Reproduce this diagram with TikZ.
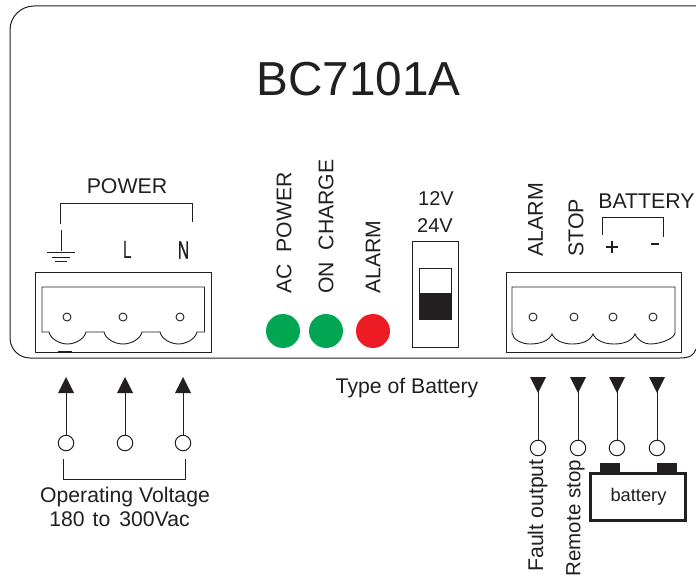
\documentclass[tikz,border=0pt]{standalone}
\usepackage{fontspec}
\setmainfont{Liberation Sans}
\definecolor{ink}{HTML}{231F20}
\definecolor{ledgreen}{HTML}{00A651}
\definecolor{ledred}{HTML}{ED1C24}
\tikzset{
 x=1pt,y=-1pt,
 wire/.style={draw=ink,line width=1pt},
 thinl/.style={draw=ink,line width=0.9pt},
 lbl/.style={text=ink,inner sep=0pt,font=\fontsize{#1}{#1}\selectfont},
 lbl/.default=16,
 vlbl/.style={lbl=#1,rotate=90,anchor=west},
 vlbl/.default=16,
 hole/.style={circle,draw=ink,line width=0.9pt,minimum size=8pt,inner sep=0pt},
 port/.style={circle,draw=ink,fill=white,line width=1pt,minimum size=15.5pt,inner sep=0pt},
 led/.style={circle,minimum size=34pt,inner sep=0pt},
 arrowtri/.style={fill=ink,draw=none},
}
\begin{document}
\begin{tikzpicture}
\useasboundingbox (0,0) rectangle (696,577);
\fill[white] (0,0) rectangle (696,577);
% housing
\draw[wire] (700,6) -- (34,6) arc[start angle=90,end angle=180,x radius=24,y radius=-24] -- (10,338)
  arc[start angle=180,end angle=270,x radius=20,y radius=-20] -- (680,358) .. controls (690,358) and (694,355) .. (696,349);
\node[lbl=47.7] (title) at (358.5,79) {BC7101A};
% POWER
\node[lbl=21.3] (power) at (127,186) {POWER};
\draw[thinl] (60,224) -- (60,203) -- (192,203) -- (192,222);
\draw[thinl] (61,230) -- (61,251);
\draw[thinl] (47,252) -- (75,252) (52,257) -- (70,257) (55,261) -- (67,261);
\node[lbl=25] (L) at (127.5,250) {\addfontfeature{FakeStretch=0.62}L};
\node[lbl=25] (N) at (183.5,250) {\addfontfeature{FakeStretch=0.62,FakeBold=1}N};
% left connector
\draw[thinl] (35,272) rectangle (211,352);
\draw[thinl] (42,287) -- (204.5,287) -- (204.5,332) -- (197,332)
 .. controls (195,340) and (185,344) .. (178.5,344) .. controls (172,344) and (162,340) .. (160,332) -- (142,332)
 .. controls (140,340) and (130,344) .. (123,344) .. controls (116,344) and (106,340) .. (104,332) -- (86,332)
 .. controls (84,340) and (74,344) .. (67.5,344) .. controls (61,344) and (51,340) .. (49,332) -- (42,332) -- cycle;
\node[hole] (h1) at (67,317) {};
\node[hole] (h2) at (123,317) {};
\node[hole] (h3) at (180,317) {};
\fill[ink] (58,351) rectangle (72,353);
% LED labels
\node[vlbl=21.2] (acp) at (284,294) {AC\ \ POWER};
\node[vlbl=21.2] (onc) at (326,294) {ON\ \ CHARGE};
\node[vlbl=21.2] (ala) at (373,294) {ALARM};
\node[led,fill=ledgreen] (led1) at (283,331) {};
\node[led,fill=ledgreen] (led2) at (326,331) {};
\node[led,fill=ledred] (led3) at (373,331) {};
% switch
\node[lbl=20] (v12) at (436,199) {12V};
\node[lbl=20] (v24) at (435,226) {24V};
\draw[thinl] (412,241) rectangle (458,347);
\draw[thinl] (419,268.5) rectangle (451,319);
\fill[ink] (419,293) rectangle (451,319);
\node[lbl=21.2] (tob) at (407,388) {Type of Battery};
% right connector labels
\node[vlbl=21.4] (ala2) at (535.5,257) {ALARM};
\node[vlbl=21.4] (stp) at (576,257) {STOP};
\node[lbl=21.3] (bat) at (646.5,201) {BATTERY};
\draw[thinl] (602,235) -- (602,217) -- (663,217) -- (663,237);
\draw[ink,line width=1.6pt] (612,241) -- (612,253) (606,247) -- (618,247);
\draw[ink,line width=2.4pt] (651,244) -- (659,244);
% right connector
\draw[thinl] (506,272) rectangle (681,352);
\draw[thinl] (512,287) -- (675,287) -- (675,333)
 .. controls (674,339) and (660,344) .. (650,344) .. controls (645,344) and (638,341) .. (635,334)
 .. controls (632,341) and (624,344) .. (614,344) .. controls (605,344) and (596,341) .. (593,334)
 .. controls (590,341) and (582,344) .. (572,344) .. controls (564,344) and (555,341) .. (552,334)
 .. controls (549,341) and (540,344) .. (530,344) .. controls (522,344) and (513,340) .. (512,333) -- cycle;
\node[hole] (h4) at (533,317) {};
\node[hole] (h5) at (574,317) {};
\node[hole] (h6) at (613,317) {};
\node[hole] (h7) at (653,317) {};
% operating voltage ports
\foreach \n/\x in {a/66,b/125,c/183}{
 \node[port] (p\n) at (\x,443) {};
 \coordinate (t\n) at (\x,393);
 \draw[wire] (p\n) -- (t\n);
 \fill[arrowtri] (\x,377) -- (\x+8,393) -- (\x-8,393) -- cycle;
}
\draw[thinl] (63,459) -- (63,479) -- (185,479) -- (185,459);
\node[lbl=21.2] (ov) at (125,497) {Operating Voltage};
\node[lbl=21.2] (rng) at (119.5,519.5) {180\hspace{8pt}to\hspace{9pt}300Vac};
% output ports
\foreach \n/\x in {d/538,e/578,f/617,g/657}{
 \node[port] (p\n) at (\x,448) {};
 \coordinate (t\n) at (\x,391);
 \draw[wire] (p\n) -- (t\n);
 \fill[arrowtri] (\x,393) -- (\x+8,377) -- (\x-8,377) -- cycle;
}
\node[vlbl=21.3] (fo) at (537.5,572) {Fault output};
\node[vlbl=20.5] (rs) at (575.5,576.5) {Remote stop};
% battery
\draw[ink,line width=3pt] (590.5,473.5) rectangle (685.5,520.5);
\fill[ink] (600,463) rectangle (620,473);
\fill[ink] (657,463) rectangle (677,473);
\node[lbl=18.3] (batt) at (638.5,497) {battery};
\end{tikzpicture}
\end{document}
